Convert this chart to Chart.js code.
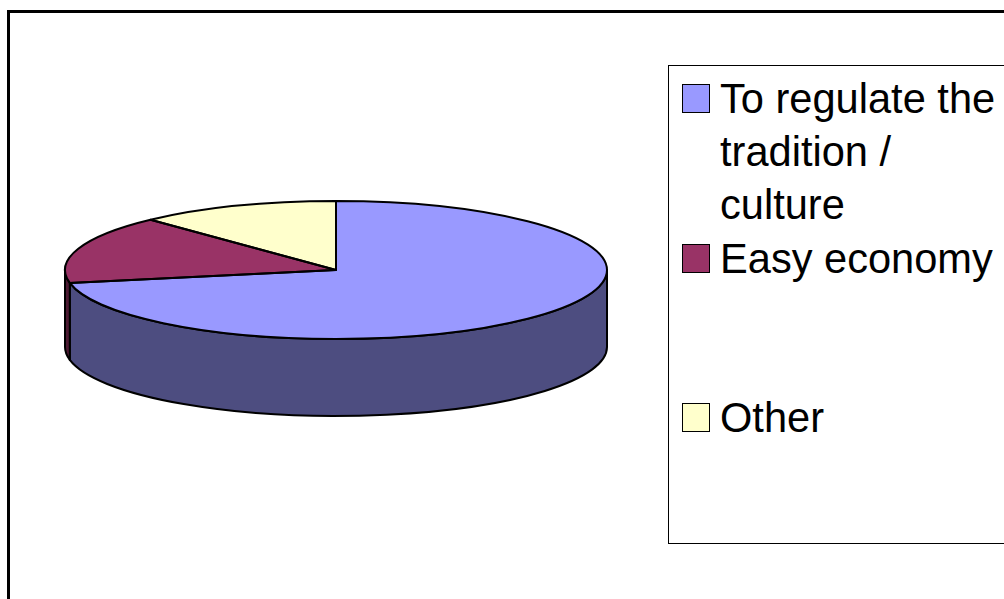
<!DOCTYPE html>
<html>
<head>
<meta charset="utf-8">
<script src="https://cdn.jsdelivr.net/npm/chart.js@4.4.1/dist/chart.umd.min.js"></script>
<style>
  html, body { margin: 0; padding: 0; width: 1004px; height: 599px; overflow: hidden; background: #fff; }
  #frame { position: absolute; left: 7px; top: 10px; width: 1100px; height: 700px; border: 3px solid #000; box-sizing: border-box; }
  #pie { position: absolute; left: 0; top: 0; }
  #legend { position: absolute; left: 668px; top: 65px; width: 500px; height: 479px; border: 1px solid #000; box-sizing: border-box; background: #fff; }
  .swatch { position: absolute; left: 682px; width: 28px; height: 29px; box-sizing: border-box; border: 1px solid #000; }
  .label { position: absolute; left: 720px; width: 284px; font-family: "Liberation Sans", Arial, sans-serif; font-size: 41.6px; line-height: 53px; color: #000; }
</style>
</head>
<body>
<div id="frame"></div>
<canvas id="pie" width="1004" height="599"></canvas>
<div id="legend"></div>
<div id="items"></div>
<script>
// Pie data
const categories = ['To regulate the tradition / culture', 'Easy economy', 'Other'];
const shares = [72, 16, 12];
const sliceColors = ['#9999FF', '#993366', '#FFFFCC'];

// Darker tone of a slice colour, used for the pie's side wall
function shade(hex, f) {
  const n = parseInt(hex.slice(1), 16);
  const r = Math.round(((n >> 16) & 255) * f);
  const g = Math.round(((n >> 8) & 255) * f);
  const b = Math.round((n & 255) * f);
  return `rgb(${r},${g},${b})`;
}

// Draws the disc as a tilted 3D pie: side wall first, then the squashed top with outlines
const pie3d = {
  id: 'pie3d',
  beforeDatasetsDraw(chart, args, opts) {
    const ctx = chart.ctx;
    const arcs = chart.getDatasetMeta(0).data;
    const { x: cx, y: cy, outerRadius: r } = arcs[0].getProps(['x', 'y', 'outerRadius'], true);
    const ry = r * opts.tilt;
    ctx.save();
    ctx.lineWidth = 2;
    ctx.strokeStyle = '#000';
    ctx.lineJoin = 'round';
    arcs.forEach((arc, i) => {
      const { startAngle: s, endAngle: e } = arc.getProps(['startAngle', 'endAngle'], true);
      for (const k of [-2 * Math.PI, 0, 2 * Math.PI]) {
        const a = Math.max(s, k), b = Math.min(e, k + Math.PI);
        if (a >= b) continue;
        ctx.beginPath();
        ctx.ellipse(cx, cy, r, ry, 0, a, b);
        ctx.ellipse(cx, cy + opts.depth, r, ry, 0, b, a, true);
        ctx.closePath();
        ctx.fillStyle = shade(sliceColors[i], 0.5);
        ctx.fill();
        ctx.stroke();
      }
    });
    ctx.restore();
    // squash the slices drawn by the controller into the tilted top face
    ctx.save();
    ctx.translate(cx, cy);
    ctx.scale(1, opts.tilt);
    ctx.translate(-cx, -cy);
  },
  afterDatasetsDraw(chart, args, opts) {
    const ctx = chart.ctx;
    ctx.restore();
    const arcs = chart.getDatasetMeta(0).data;
    const { x: cx, y: cy, outerRadius: r } = arcs[0].getProps(['x', 'y', 'outerRadius'], true);
    const ry = r * opts.tilt;
    ctx.save();
    ctx.lineWidth = 2;
    ctx.strokeStyle = '#000';
    ctx.lineJoin = 'round';
    arcs.forEach(arc => {
      const { startAngle: s, endAngle: e } = arc.getProps(['startAngle', 'endAngle'], true);
      ctx.beginPath();
      ctx.moveTo(cx, cy);
      ctx.ellipse(cx, cy, r, ry, 0, s, e);
      ctx.closePath();
      ctx.stroke();
    });
    ctx.restore();
  }
};

const chart = new Chart(document.getElementById('pie'), {
  type: 'pie',
  data: {
    labels: categories,
    datasets: [{
      data: shares,
      backgroundColor: sliceColors,
      borderWidth: 0,
      clip: false
    }]
  },
  options: {
    responsive: false,
    animation: false,
    events: [],
    radius: 271,
    layout: { padding: { left: 65, right: 397, top: 0, bottom: 59 } },
    plugins: {
      legend: { display: false },
      tooltip: { enabled: false },
      pie3d: { tilt: 69 / 271, depth: 77 }
    }
  },
  plugins: [pie3d]
});

// Legend built from the chart's own labels and colours
const items = document.getElementById('items');
const firstBaseline = 113, entryStep = 159.5;
chart.data.labels.forEach((label, i) => {
  const base = firstBaseline + i * entryStep;
  const sw = document.createElement('div');
  sw.className = 'swatch';
  sw.style.top = (base - 29) + 'px';
  sw.style.background = chart.data.datasets[0].backgroundColor[i];
  items.appendChild(sw);
  const tx = document.createElement('div');
  tx.className = 'label';
  tx.style.top = (base - 41) + 'px';
  tx.textContent = label;
  items.appendChild(tx);
});
</script>
</body>
</html>
